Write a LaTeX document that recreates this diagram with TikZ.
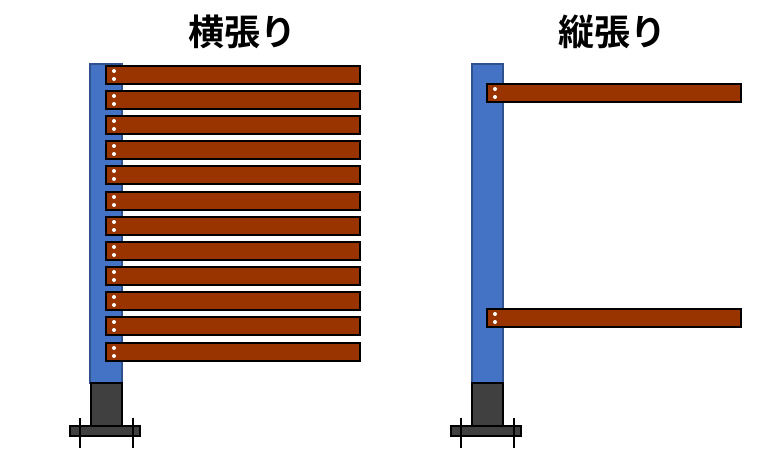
\documentclass[tikz,border=0pt]{standalone}
\usepackage{fontspec}
\newfontfamily\cjk{Noto Sans CJK JP}[BoldFont={Noto Sans CJK JP Bold}]
\usepackage{tikz}
\usetikzlibrary{positioning}
\definecolor{postblue}{RGB}{68,114,196}
\definecolor{postedge}{RGB}{47,82,143}
\definecolor{boardbrown}{RGB}{153,51,0}
\definecolor{footgray}{RGB}{64,64,64}
\tikzset{
  post/.style={fill=postblue,draw=postedge,line width=1.2pt},
  board/.style={fill=boardbrown,draw=black,line width=1.6pt},
  foot/.style={fill=footgray,draw=black,line width=1.6pt},
  bolt/.style={draw=black,line width=2pt},
  title/.style={font=\cjk\bfseries\fontsize{27}{30}\selectfont}
}
\newcommand{\footpart}[1]{%
  \draw[foot] (#1+91,383) rectangle (#1+122,436);
  \draw[foot] (#1+70,426) rectangle (#1+140,436);
  \draw[bolt] (#1+80,418) -- (#1+80,448);
  \draw[bolt] (#1+133,418) -- (#1+133,448);}
\newcommand{\boardpart}[2]{%
  \draw[board] (#1,#2) rectangle (#1+254,#2+18);
  \fill[white] (#1+8,#2+5) circle (1.5pt) (#1+8,#2+13) circle (1.5pt);}
\begin{document}
\begin{tikzpicture}[x=0.75pt,y=-0.75pt]
\useasboundingbox (0,0) rectangle (776,475);
\node[title] (yoko) at (242,32) {横張り};
\node[title] (tate) at (612,32) {縦張り};
% left
\draw[post] (90,64) rectangle (122,383);
\foreach \t in {66,91,116,141,166,192,217,242,267,292,317,343}
  {\boardpart{106}{\t}}
\footpart{0}
% right
\draw[post] (472,64) rectangle (503,383);
\boardpart{487}{84}
\boardpart{487}{309}
\footpart{381}
\end{tikzpicture}
\end{document}
